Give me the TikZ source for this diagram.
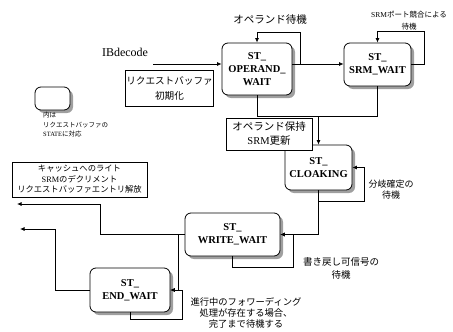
\documentclass[tikz,border=0pt]{standalone}
\usepackage{fontspec}
\setmainfont{Liberation Serif}
\newfontfamily\jp{Noto Sans CJK JP}
\usetikzlibrary{arrows.meta,shadows}
\tikzset{
  st/.style={draw, line width=0.8pt, rounded corners=6pt, fill=white, align=center,
    drop shadow={shadow xshift=3pt, shadow yshift=-3pt, fill=gray!75, opacity=1},
    font=\bfseries\fontsize{10.5}{13}\selectfont, inner sep=1pt},
  lbox/.style={draw, line width=0.8pt, fill=white, align=center, inner sep=1pt},
  ln/.style={line width=0.8pt},
  arr/.style={line width=0.8pt, -{Latex[length=4.5pt,width=4pt]}},
  jt/.style={align=center, inner sep=0pt},
}
\begin{document}
\begin{tikzpicture}[x=1pt,y=-1pt]
\useasboundingbox (0,0) rectangle (453,332);

% legend
\node[st, minimum width=35pt, minimum height=23pt] (lg) at (52.5,98.5) {};
\node[anchor=north west, align=left, inner sep=0pt, font=\fontsize{6.5}{9.5}\selectfont] (lgt) at (43,112)
  {{\jp 内は}\\{\jp リクエストバッファの}\\STATE{\jp に対応}};

% state boxes
\node[st, minimum width=70pt, minimum height=52pt] (op) at (257,69) {ST\_\\OPERAND\_\\WAIT};
\node[st, minimum width=67pt, minimum height=43pt] (srm) at (377.5,64.5) {ST\_\\SRM\_WAIT};
\node[st, minimum width=67pt, minimum height=45pt] (cl) at (318.5,167.5) {ST\_\\CLOAKING};
\node[st, minimum width=95pt, minimum height=43pt] (wr) at (232.5,234.5) {ST\_\\WRITE\_WAIT};
\node[st, minimum width=80pt, minimum height=44pt] (en) at (130,290) {ST\_\\END\_WAIT};

% labels
\node[inner sep=0pt, font=\fontsize{12}{14}\selectfont] (ib) at (125,52) {IBdecode};
\node[jt, font=\jp\fontsize{10.5}{13}\selectfont] (opw) at (270,20) {オペランド待機};
\node[jt, font=\fontsize{7.5}{12}\selectfont] (srw) at (409,21) {SRM{\jp ポート競合による}\\{\jp 待機}};
\node[jt, font=\jp\fontsize{9}{11}\selectfont] (clw) at (391,190) {分岐確定の\\待機};
\node[jt, font=\jp\fontsize{9.5}{13}\selectfont] (wrw) at (341,268.5) {書き戻し可信号の\\待機};
\node[jt, font=\jp\fontsize{9.3}{11}\selectfont] (enw) at (246,313) {進行中のフォワーディング\\処理が存在する場合、\\完了まで待機する};

\node[lbox, minimum width=79pt, minimum height=36pt, font=\jp\fontsize{9.6}{15}\selectfont] (init) at (169.5,88) {リクエストバッファ\\初期化};
\node[lbox, minimum width=135pt, minimum height=35pt, font=\fontsize{8.3}{10.5}\selectfont] (rel) at (79.5,179.5)
  {{\jp キャッシュへのライト}\\SRM{\jp のデクリメント}\\{\jp リクエストバッファエントリ解放}};

% connectors
\coordinate (ibs) at (153,64);
\coordinate (opl) at (300,32);
\coordinate (srl) at (424,31);
\coordinate (mg) at (318,116);
\coordinate (cll) at (364,201);
\coordinate (wrl) at (293,267);
\coordinate (wk) at (100,204);
\coordinate (o1) at (17,204);
\coordinate (wd) at (178,0);
\coordinate (enl) at (182,319);
\coordinate (ek) at (55,229);
\coordinate (o2) at (20,229);

\draw[arr] (ibs) -- (ibs -| op.west);
\draw[arr] (op.east |- ibs) -| (opl) -| (op.north);
\draw[arr] (opl |- ibs) -- (ibs -| srm.west);
\draw[arr] (srm.east) -| (srl) -| (srm.north);
\draw[ln] (op.south) |- (srm.south |- mg) -- (srm.south);
\draw[arr] (cl.north |- mg) -- (cl.north);
\draw[arr] (cl.south) |- (cll) |- (cl.east);
\draw[arr] (cl.south) |- (wr.east);
\draw[arr] (wr.south) |- (wrl) |- (wr.east);
\draw[arr] (wr.west) -| (wk) -- (o1);
\draw[arr] (wr.west -| wd) |- (en.east);
\draw[arr] (en.south) |- (enl) |- (en.east);
\draw[arr] (en.west) -| (ek) -- (o2);

% label box over cloaking
\node[lbox, minimum width=86pt, minimum height=32pt, font=\jp\fontsize{10.5}{14}\selectfont] (hold) at (269,134)
  {オペランド保持\\{\rmfamily SRM}更新};
\end{tikzpicture}
\end{document}
